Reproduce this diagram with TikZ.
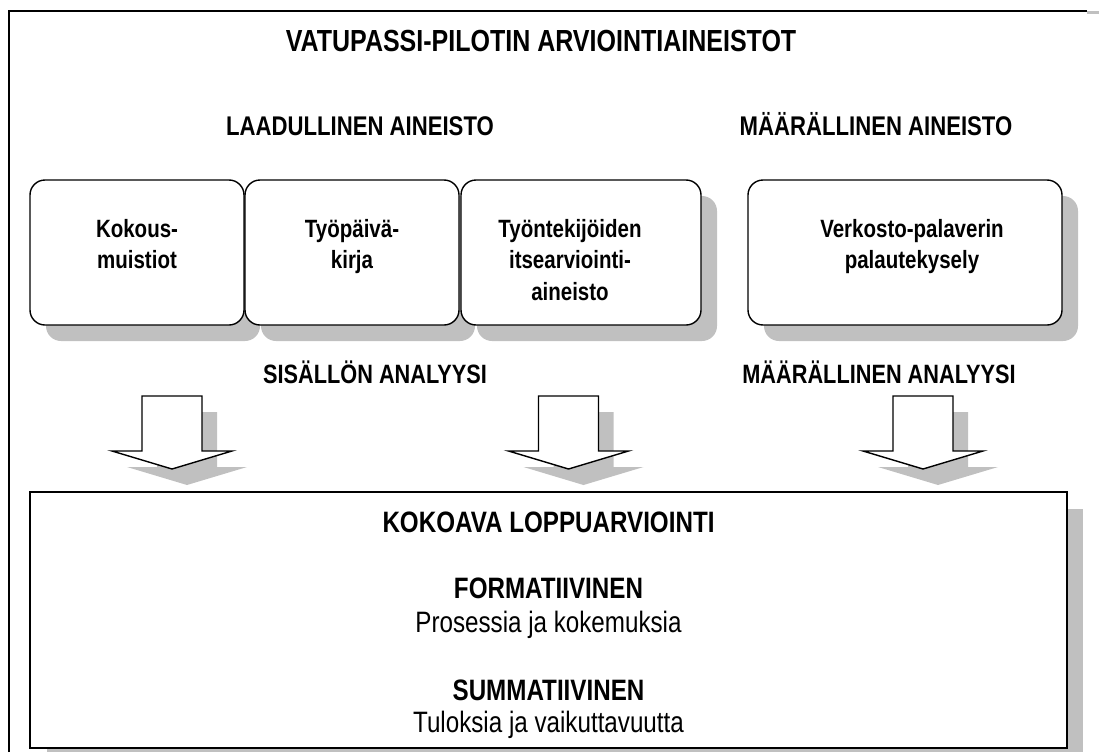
\documentclass[tikz,border=0pt]{standalone}
\usepackage{fontspec}
\setmainfont{Liberation Sans}[FakeStretch=0.82]
\usetikzlibrary{shadows}
\definecolor{shadowgray}{RGB}{192,192,192}
\begin{document}
\begin{tikzpicture}[x=1pt,y=-1pt,
  frameline/.style={line width=2pt},
  sourcebox/.style={draw, line width=1.4pt, rounded corners=15pt, fill=white,
    inner sep=0pt, minimum height=145pt,
    drop shadow={shadow xshift=16pt, shadow yshift=-16pt, fill=shadowgray, opacity=1}},
  boxtext/.style={inner sep=0pt, align=center, anchor=north,
    font=\fontsize{25}{31.5}\selectfont\bfseries},
  titletext/.style={inner sep=0pt, anchor=base, font=\fontsize{30.5}{36}\selectfont\bfseries},
  headtext/.style={inner sep=0pt, anchor=base, font=\fontsize{27}{32}\selectfont\bfseries},
  analysistext/.style={inner sep=0pt, anchor=base, font=\fontsize{26.5}{32}\selectfont\bfseries},
  resultbold/.style={inner sep=0pt, anchor=base, font=\fontsize{29.5}{35}\selectfont\bfseries},
  resultplain/.style={inner sep=0pt, anchor=base, font=\fontsize{29.5}{35}\selectfont},
  blockarrow/.style={draw, line width=1.4pt, fill=white, line join=miter},
  arrowshadow/.style={fill=shadowgray}
]
\useasboundingbox (0,0) rectangle (1099,752);

% outer frame (only its top and left sides fall inside the page)
\fill[shadowgray] (1087,11) rectangle (1099,14);
\draw[frameline] (9,752) -- (9,11) -- (1087,11);

% title and group headings
\node[titletext] (title) at (541,52) {VATUPASSI-PILOTIN ARVIOINTIAINEISTOT};
\node[headtext] (qualhead) at (360,135) {LAADULLINEN AINEISTO};
\node[headtext] (quanthead) at (876,135) {MÄÄRÄLLINEN AINEISTO};

% source material boxes
\node[sourcebox, minimum width=214pt] (kokous) at (137,252.5) {};
\node[sourcebox, minimum width=214pt] (paivakirja) at (352,252.5) {};
\node[sourcebox, minimum width=240pt] (itsearvio) at (581,252.5) {};
\node[sourcebox, minimum width=314pt] (kysely) at (905,252.5) {};

\node[boxtext] (kokoust) at (137,219) {Kokous-\\muistiot};
\node[boxtext] (paivakirjat) at (352,219) {Työpäivä-\\kirja};
\node[boxtext] (itsearviot) at (570,219) {Työntekijöiden\\itsearviointi-\\aineisto};
\node[boxtext] (kyselyt) at (912,219) {Verkosto-palaverin\\palautekysely};

% analysis labels
\node[analysistext] (sisalto) at (375,383) {SISÄLLÖN ANALYYSI};
\node[analysistext] (maaral) at (879,383) {MÄÄRÄLLINEN ANALYYSI};

% block arrows down to the final evaluation
\foreach \cx in {172,568.5,923}{
  \fill[arrowshadow] (\cx+15-30,396+16) -- (\cx+15+30,396+16) -- (\cx+15+30,451+16)
    -- (\cx+15+60,451+16) -- (\cx+15,469+16) -- (\cx+15-60,451+16)
    -- (\cx+15-30,451+16) -- cycle;
  \draw[blockarrow] (\cx-30,396) -- (\cx+30,396) -- (\cx+30,451) -- (\cx+60,451)
    -- (\cx,469) -- (\cx-60,451) -- (\cx-30,451) -- cycle;
}

% final evaluation box
\fill[shadowgray] (47,509) rectangle (1083,752);
\draw[line width=1.6pt, fill=white] (30,492) rectangle (1067,748);
\node[resultbold] (kokoava) at (548.5,532) {KOKOAVA LOPPUARVIOINTI};
\node[resultbold] (formatiivinen) at (548.5,598) {FORMATIIVINEN};
\node[resultplain] (prosessi) at (548.5,632) {Prosessia ja kokemuksia};
\node[resultbold] (summatiivinen) at (548.5,700) {SUMMATIIVINEN};
\node[resultplain] (tulokset) at (548.5,732) {Tuloksia ja vaikuttavuutta};
\end{tikzpicture}
\end{document}
